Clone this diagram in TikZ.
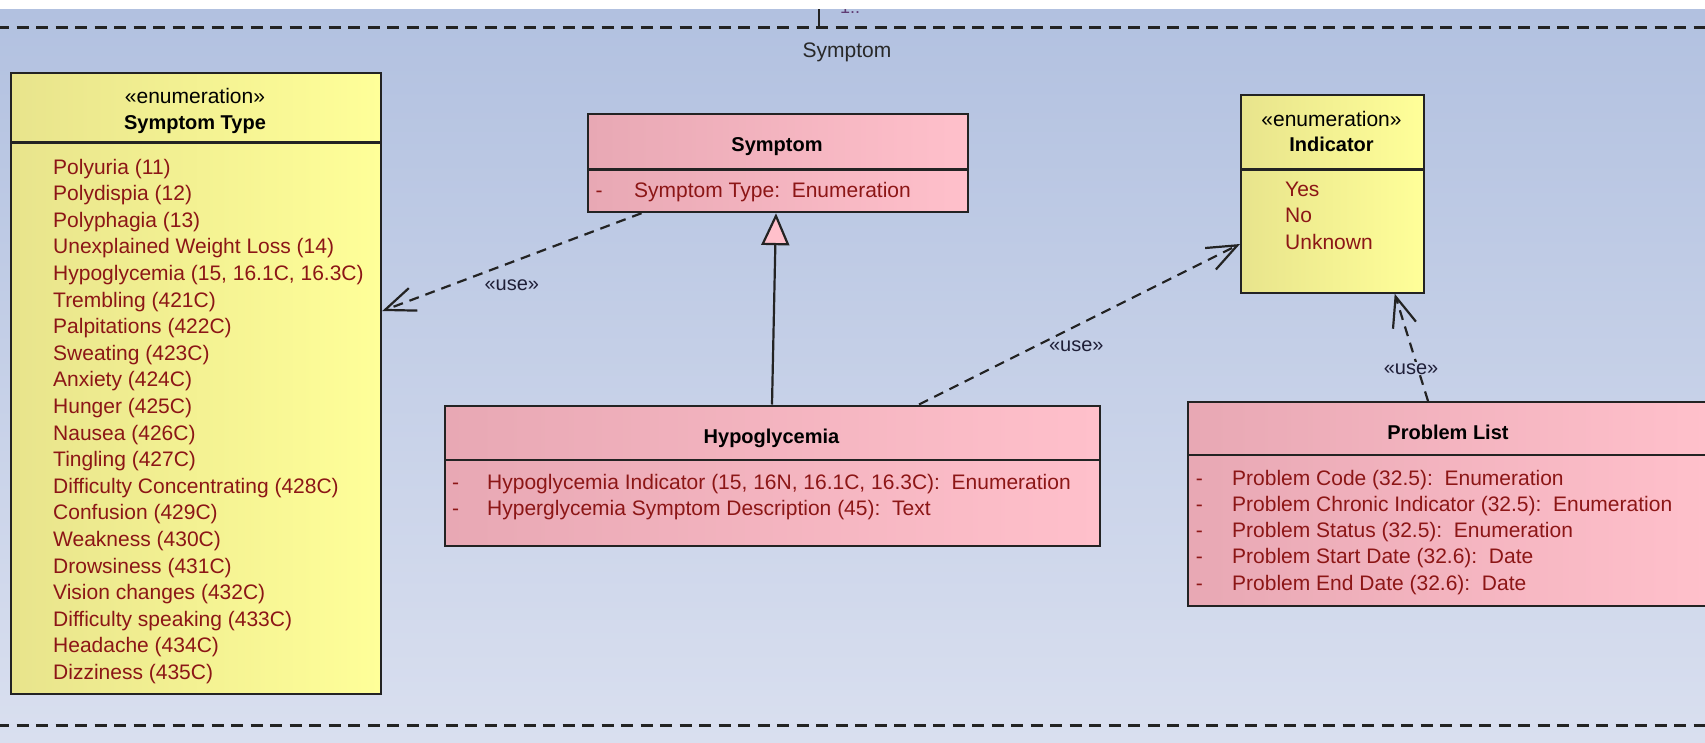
\documentclass[tikz,border=0pt]{standalone}
\usepackage{fontspec}
\setmainfont{Liberation Sans}
\usetikzlibrary{arrows.meta}
\definecolor{bgtop}{RGB}{178,193,224}
\definecolor{bgbot}{RGB}{217,223,239}
\definecolor{bgmid}{RGB}{197,207,231}
\definecolor{yelL}{RGB}{232,228,140}
\definecolor{yelR}{RGB}{255,255,153}
\definecolor{pinkL}{RGB}{232,168,180}
\definecolor{pinkR}{RGB}{255,192,203}
\definecolor{attr}{RGB}{140,22,22}
\definecolor{edge}{RGB}{35,35,35}
\definecolor{lbl}{RGB}{30,30,55}
\definecolor{pkgtext}{RGB}{40,40,40}
\definecolor{mult}{RGB}{95,60,115}
\begin{document}
\begin{tikzpicture}[x=1pt,y=-1pt,
  box/.style={draw=edge, line width=2.2pt, inner sep=0pt, anchor=north west},
  enumbox/.style={box, left color=yelL, right color=yelR},
  classbox/.style={box, left color=pinkL, right color=pinkR},
  sepline/.style={draw=edge, line width=2.2pt},
  ttl/.style={font=\fontsize{20}{24}\selectfont\bfseries, text=black, anchor=mid, inner sep=0pt, yshift=-5pt},
  stereo/.style={font=\fontsize{21}{24}\selectfont, text=black, anchor=mid, inner sep=0pt, yshift=-5pt},
  item/.style={font=\fontsize{21}{24}\selectfont, text=attr, anchor=mid west, inner sep=0pt, yshift=-5pt},
  vis/.style={font=\fontsize{21}{24}\selectfont, text=attr, anchor=mid, inner sep=0pt, yshift=-5pt},
  dep/.style={draw=edge, line width=2.2pt, dash pattern=on 10pt off 7pt, -{Straight Barb[length=30pt,width=24pt]}},
  gen/.style={draw=edge, line width=2.2pt, -{Triangle[length=32pt,width=28pt,fill=pinkR]}},
  uselbl/.style={font=\fontsize{20}{24}\selectfont, text=lbl, inner sep=1pt},
  pkg/.style={draw=edge, line width=3pt, dash pattern=on 12pt off 7.5pt},
]
\useasboundingbox (0,0) rectangle (1705,742);
\clip (0,0) rectangle (1705,742);
% background
\shade[top color=bgtop, bottom color=bgbot] (0,9) rectangle (1705,742);
\node[font=\fontsize{18}{20}\selectfont, text=mult, anchor=base, inner sep=0pt] (multlbl) at (850,13) {1..};
\fill[white] (0,0) rectangle (1705,9);
% package frame
\draw[pkg] (-3,27) -- (1710,27);
\draw[pkg] (-3,725) -- (1710,725);
\coordinate (uptop) at (819,9);
\coordinate (upbot) at (819,27.5);
\draw[draw=edge, line width=2.2pt] (uptop) -- (upbot);
\node[stereo, text=pkgtext] (pkglbl) at (847,50) {Symptom};

% Symptom Type enumeration
\node[enumbox, minimum width=370pt, minimum height=621pt, line width=2.2pt] (stype) at (10,72) {};
\draw[sepline] ([yshift=-70.5pt]stype.north west) -- ([yshift=-70.5pt]stype.north east);
\node[stereo] (stypest) at (195,96) {«enumeration»};
\node[ttl] (stypet) at (195,122) {Symptom Type};
\foreach \t [count=\i from 0] in {Polyuria (11), Polydispia (12), Polyphagia (13),
  Unexplained Weight Loss (14), {Hypoglycemia (15, 16.1C, 16.3C)}, Trembling (421C),
  Palpitations (422C), Sweating (423C), Anxiety (424C), Hunger (425C), Nausea (426C),
  Tingling (427C), Difficulty Concentrating (428C), Confusion (429C), Weakness (430C),
  Drowsiness (431C), Vision changes (432C), Difficulty speaking (433C), Headache (434C),
  Dizziness (435C)}
  \node[item] (sti\i) at (53,{166.4+26.6*\i}) {\t};

% Symptom class
\node[classbox, minimum width=380pt, minimum height=98pt] (symptom) at (587,113) {};
\draw[sepline] ([yshift=-56.5pt]symptom.north west) -- ([yshift=-56.5pt]symptom.north east);
\node[ttl] (symptomt) at (777,143.5) {Symptom};
\node[vis] (syv1) at (599,190.3) {-};
\node[item] (sya1) at (634,190.3) {Symptom Type:\ \ Enumeration};

% Indicator enumeration
\node[enumbox, minimum width=183pt, minimum height=198pt] (ind) at (1240,93.5) {};
\draw[sepline] ([yshift=-76pt]ind.north west) -- ([yshift=-76pt]ind.north east);
\node[stereo] (indst) at (1331.5,118.5) {«enumeration»};
\node[ttl] (indt) at (1331.5,143.5) {Indicator};
\node[item] (indi1) at (1285,189.2) {Yes};
\node[item] (indi2) at (1285,215.3) {No};
\node[item] (indi3) at (1285,241.4) {Unknown};

% Hypoglycemia class
\node[classbox, minimum width=655pt, minimum height=140pt] (hypo) at (444,404.5) {};
\draw[sepline] ([yshift=-55.5pt]hypo.north west) -- ([yshift=-55.5pt]hypo.north east);
\node[ttl] (hypot) at (771.5,436) {Hypoglycemia};
\node[vis] (hyv1) at (455.6,481.7) {-};
\node[item] (hya1) at (487,481.7) {Hypoglycemia Indicator (15, 16N, 16.1C, 16.3C):\ \ Enumeration};
\node[vis] (hyv2) at (455.6,507.8) {-};
\node[item] (hya2) at (487,507.8) {Hyperglycemia Symptom Description (45):\ \ Text};

% Problem List class
\node[classbox, minimum width=522pt, minimum height=204pt] (plist) at (1187,401) {};
\draw[sepline] ([yshift=-54pt]plist.north west) -- ([yshift=-54pt]plist.north east);
\node[ttl] (plistt) at (1448,432) {Problem List};
\foreach \t [count=\i from 0] in {{Problem Code (32.5):\ \ Enumeration},
  {Problem Chronic Indicator (32.5):\ \ Enumeration},
  {Problem Status (32.5):\ \ Enumeration},
  {Problem Start Date (32.6):\ \ Date},
  {Problem End Date (32.6):\ \ Date}} {
  \node[vis] (plv\i) at (1199.4,{477.4+26.3*\i}) {-};
  \node[item] (pla\i) at (1232,{477.4+26.3*\i}) {\t};
}

% connectors
\draw[dep] ([xshift=54.5pt]symptom.south west) -- ([yshift=-239pt]stype.north east)
  node[pos=0.5, yshift=-23pt, uselbl] (use1) {«use»};
\draw[gen] ([xshift=328pt]hypo.north west) -- ([xshift=189pt]symptom.south west);
\draw[dep] ([xshift=475pt]hypo.north west) -- ([yshift=-150.5pt]ind.north west)
  node[pos=0.49, yshift=-20pt, uselbl] (use2) {«use»};
\draw[dep] ([xshift=241pt]plist.north west) -- ([xshift=-30.5pt]ind.south east)
  node[pos=0.3, xshift=-7pt, uselbl, fill=bgmid] (use3) {«use»};
\end{tikzpicture}
\end{document}
